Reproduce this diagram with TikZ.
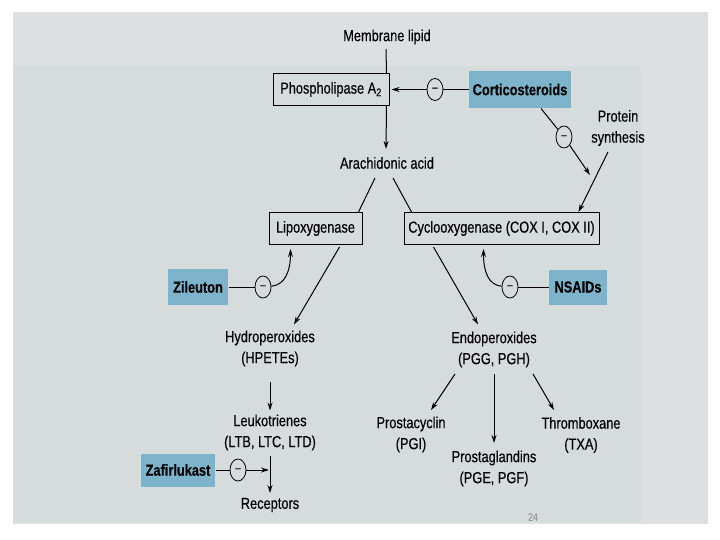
\documentclass[tikz,border=0pt]{standalone}
\usepackage{fontspec}
\setmainfont{Liberation Sans}[FakeStretch=0.8, FakeBold=0.3]
\usetikzlibrary{positioning,arrows.meta,calc,shapes.geometric}
\definecolor{ScanGray}{HTML}{DCE0E1}
\definecolor{PanelGray}{HTML}{D6DBDC}
\definecolor{DrugBlue}{HTML}{7DB4CB}

\begin{document}
\begin{tikzpicture}[x=1pt, y=-1pt, line width=1pt,
        lbl/.style={align=center, inner sep=0pt, font=\fontsize{16}{21}\selectfont},
        enz/.style={draw=black, line width=1pt, minimum height=32pt,
                    inner sep=2pt, font=\fontsize{16}{21}\selectfont},
        drug/.style={fill=DrugBlue, minimum height=36pt, inner sep=2pt,
                     font=\fontsize{16}{21}\selectfont\bfseries},
        inh/.style={draw=black, ellipse, line width=0.8pt, minimum width=16pt,
                    minimum height=22pt, inner sep=0pt, font=\fontsize{12}{12}\selectfont},
        arr/.style={-{Stealth[length=8pt,width=5pt]}},
      ]
      % scanned page
      \fill[ScanGray] (13,12) rectangle (708,524);
      \fill[PanelGray] (13,66) rectangle (641,522);
      \useasboundingbox (0,0) rectangle (720,540);

      \node[lbl] (membrane) at (387,37) {Membrane lipid};
      \node[enz, minimum width=116pt] (pla) at (331,89.5) {Phospholipase A\textsubscript{2}};
      \node[drug, minimum width=102pt, minimum height=37pt] (cortico) at (520,89.5) {Corticosteroids};
      \node[inh] (inhpla) at (435,89.5) {–};
      \node[lbl] (protsyn) at (618,128) {Protein\\synthesis};
      \node[inh] (inhps) at (564,137) {–};
      \coordinate (psjoin) at (590,175);
      \node[lbl] (arach) at (387,163) {Arachidonic acid};

      \node[enz, minimum width=93pt] (lox) at (315.5,228.5) {Lipoxygenase};
      \node[enz, minimum width=195pt] (cox) at (501.5,228.5) {Cyclooxygenase (COX I, COX II)};
      \node[drug, minimum width=60pt] (zileuton) at (198,287) {Zileuton};
      \node[inh] (inhlox) at (263,287) {–};
      \node[drug, minimum width=58pt, minimum height=35pt] (nsaids) at (578,287) {NSAIDs};
      \node[inh] (inhcox) at (510,287) {–};

      \node[lbl] (hpete) at (270,348.5) {Hydroperoxides\\(HPETEs)};
      \node[lbl] (endo) at (494,349.5) {Endoperoxides\\(PGG, PGH)};
      \node[lbl] (leuko) at (270,432.5) {Leukotrienes\\(LTB, LTC, LTD)};
      \node[lbl] (pgi) at (411,434.5) {Prostacyclin\\(PGI)};
      \node[lbl] (txa) at (581,435) {Thromboxane\\(TXA)};
      \node[lbl] (pge) at (494,468.5) {Prostaglandins\\(PGE, PGF)};
      \node[lbl] (recep) at (270,505) {Receptors};
      \node[drug, minimum width=74pt, minimum height=33pt] (zafir) at (178,470) {Zafirlukast};
      \node[inh] (inhrec) at (238,470) {–};
      \node[lbl, font=\fontsize{11}{12}\selectfont, text=black!40] (pagenum) at (533,517) {24};

      % pathway
      \draw ($(membrane)+(-1,12)$) -- ($(pla.north east)+(-3,0)$);
      \draw[arr] ($(pla.south east)+(-3,0)$) -- ($(arach)+(-1,-14)$);
      \draw (cortico) -- (inhpla);
      \draw[arr, shorten >=2pt] (inhpla) -- (pla.east);
      \draw ($(cortico.south)+(21,0)$) -- (inhps);
      \draw[arr] (inhps) -- (psjoin);
      \draw[arr] ($(protsyn)+(-10,24)$) -- ($(cox.north)+(77,0)$);
      \draw ($(arach)+(-12,15)$) -- ($(lox.north east)+(-4,0)$);
      \draw ($(arach)+(6,15)$) -- ($(cox.north west)+(8,0)$);

      \draw (zileuton) -- (inhlox);
      \draw[arr] (inhlox) .. controls +(22,-2) and +(0,22) .. ($(lox.south west)+(22,4)$);
      \draw (nsaids) -- (inhcox);
      \draw[arr] (inhcox) .. controls +(-22,-2) and +(0,22) .. ($(cox.south west)+(80,4)$);

      \draw[arr] ($(lox.south east)+(-23,2)$) -- ($(hpete)+(24,-24)$);
      \draw[arr] ($(cox.south west)+(30,2)$) -- ($(endo)+(-16,-25)$);
      \draw[arr] ($(hpete)+(0,33)$) -- ($(leuko)+(0,-22)$);
      \draw[arr] ($(endo)+(-39,24.5)$) -- ($(pgi)+(20,-24.5)$);
      \draw[arr] ($(endo)+(0,24.5)$) -- ($(pge)+(0,-25.5)$);
      \draw[arr] ($(endo)+(39,24.5)$) -- ($(txa)+(-27,-25)$);

      \draw[arr] ($(leuko)+(0,23)$) -- ($(recep)+(0,-12)$);
      \draw (zafir) -- (inhrec);
      \draw[arr, shorten >=1pt] (inhrec) -- (leuko |- inhrec);
    \end{tikzpicture}
\end{document}
